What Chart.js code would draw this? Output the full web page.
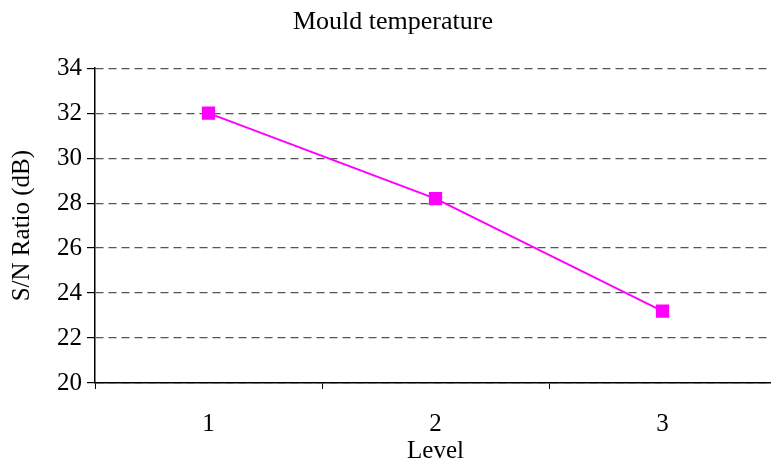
<!DOCTYPE html>
<html>
<head>
<meta charset="utf-8">
<script src="https://cdn.jsdelivr.net/npm/chart.js@4/dist/chart.umd.min.js"></script>
<style>
  html, body { margin: 0; padding: 0; background: #fff; overflow: hidden; }
  #wrap { width: 771px; height: 466px; overflow: hidden; }
</style>
</head>
<body>
<div id="wrap"><canvas id="chart" width="786" height="466"></canvas></div>
<script>
var levels = ['1', '2', '3'];
var snRatio = [32.0, 28.2, 23.2];
var yTicks = [20, 22, 24, 26, 28, 30, 32, 34];

var serif = '"Liberation Serif", "Times New Roman", serif';
var fontSize = 25;

new Chart(document.getElementById('chart'), {
  type: 'line',
  data: {
    labels: levels,
    datasets: [{
      label: 'S/N Ratio',
      data: snRatio,
      borderColor: '#ff00ff',
      backgroundColor: '#ff00ff',
      borderWidth: 2,
      pointStyle: 'rect',
      pointRadius: 8,
      pointHoverRadius: 8,
      tension: 0,
      fill: false
    }]
  },
  options: {
    responsive: false,
    animation: false,
    layout: { padding: { left: 0, right: 0, top: 7, bottom: 0 } },
    plugins: {
      legend: { display: false },
      tooltip: { enabled: false },
      title: {
        display: true,
        text: 'Mould temperature',
        color: '#000',
        font: { family: serif, size: 26, weight: 'normal' },
        padding: { top: 0, bottom: 30 }
      }
    },
    scales: {
      x: {
        type: 'category',
        offset: true,
        afterFit: function (axis) {
          axis.height = 83;
        },
        grid: {
          offset: true,
          drawOnChartArea: false,
          drawTicks: true,
          tickLength: 6,
          tickColor: '#000'
        },
        border: { display: true, color: '#000', width: 1.5 },
        ticks: {
          color: '#000',
          padding: 20,
          maxRotation: 0,
          font: { family: serif, size: fontSize }
        },
        title: {
          display: true,
          text: 'Level',
          color: '#000',
          font: { family: serif, size: fontSize },
          padding: { top: 0, bottom: 0 }
        }
      },
      y: {
        min: yTicks[0],
        max: yTicks[yTicks.length - 1],
        afterBuildTicks: function (axis) {
          axis.ticks = yTicks.map(function (v) { return { value: v }; });
        },
        afterFit: function (axis) {
          axis.width = 95;
        },
        grid: {
          color: '#555',
          lineWidth: 1.2,
          tickLength: 8,
          tickColor: '#000',
          tickBorderDash: []
        },
        border: { display: true, color: '#000', width: 1.5, dash: [8, 5] },
        ticks: {
          color: '#000',
          padding: 5,
          font: { family: serif, size: fontSize }
        },
        title: {
          display: true,
          text: 'S/N Ratio (dB)',
          color: '#000',
          font: { family: serif, size: fontSize },
          padding: { top: 7, bottom: 0 }
        }
      }
    }
  }
});
</script>
</body>
</html>
